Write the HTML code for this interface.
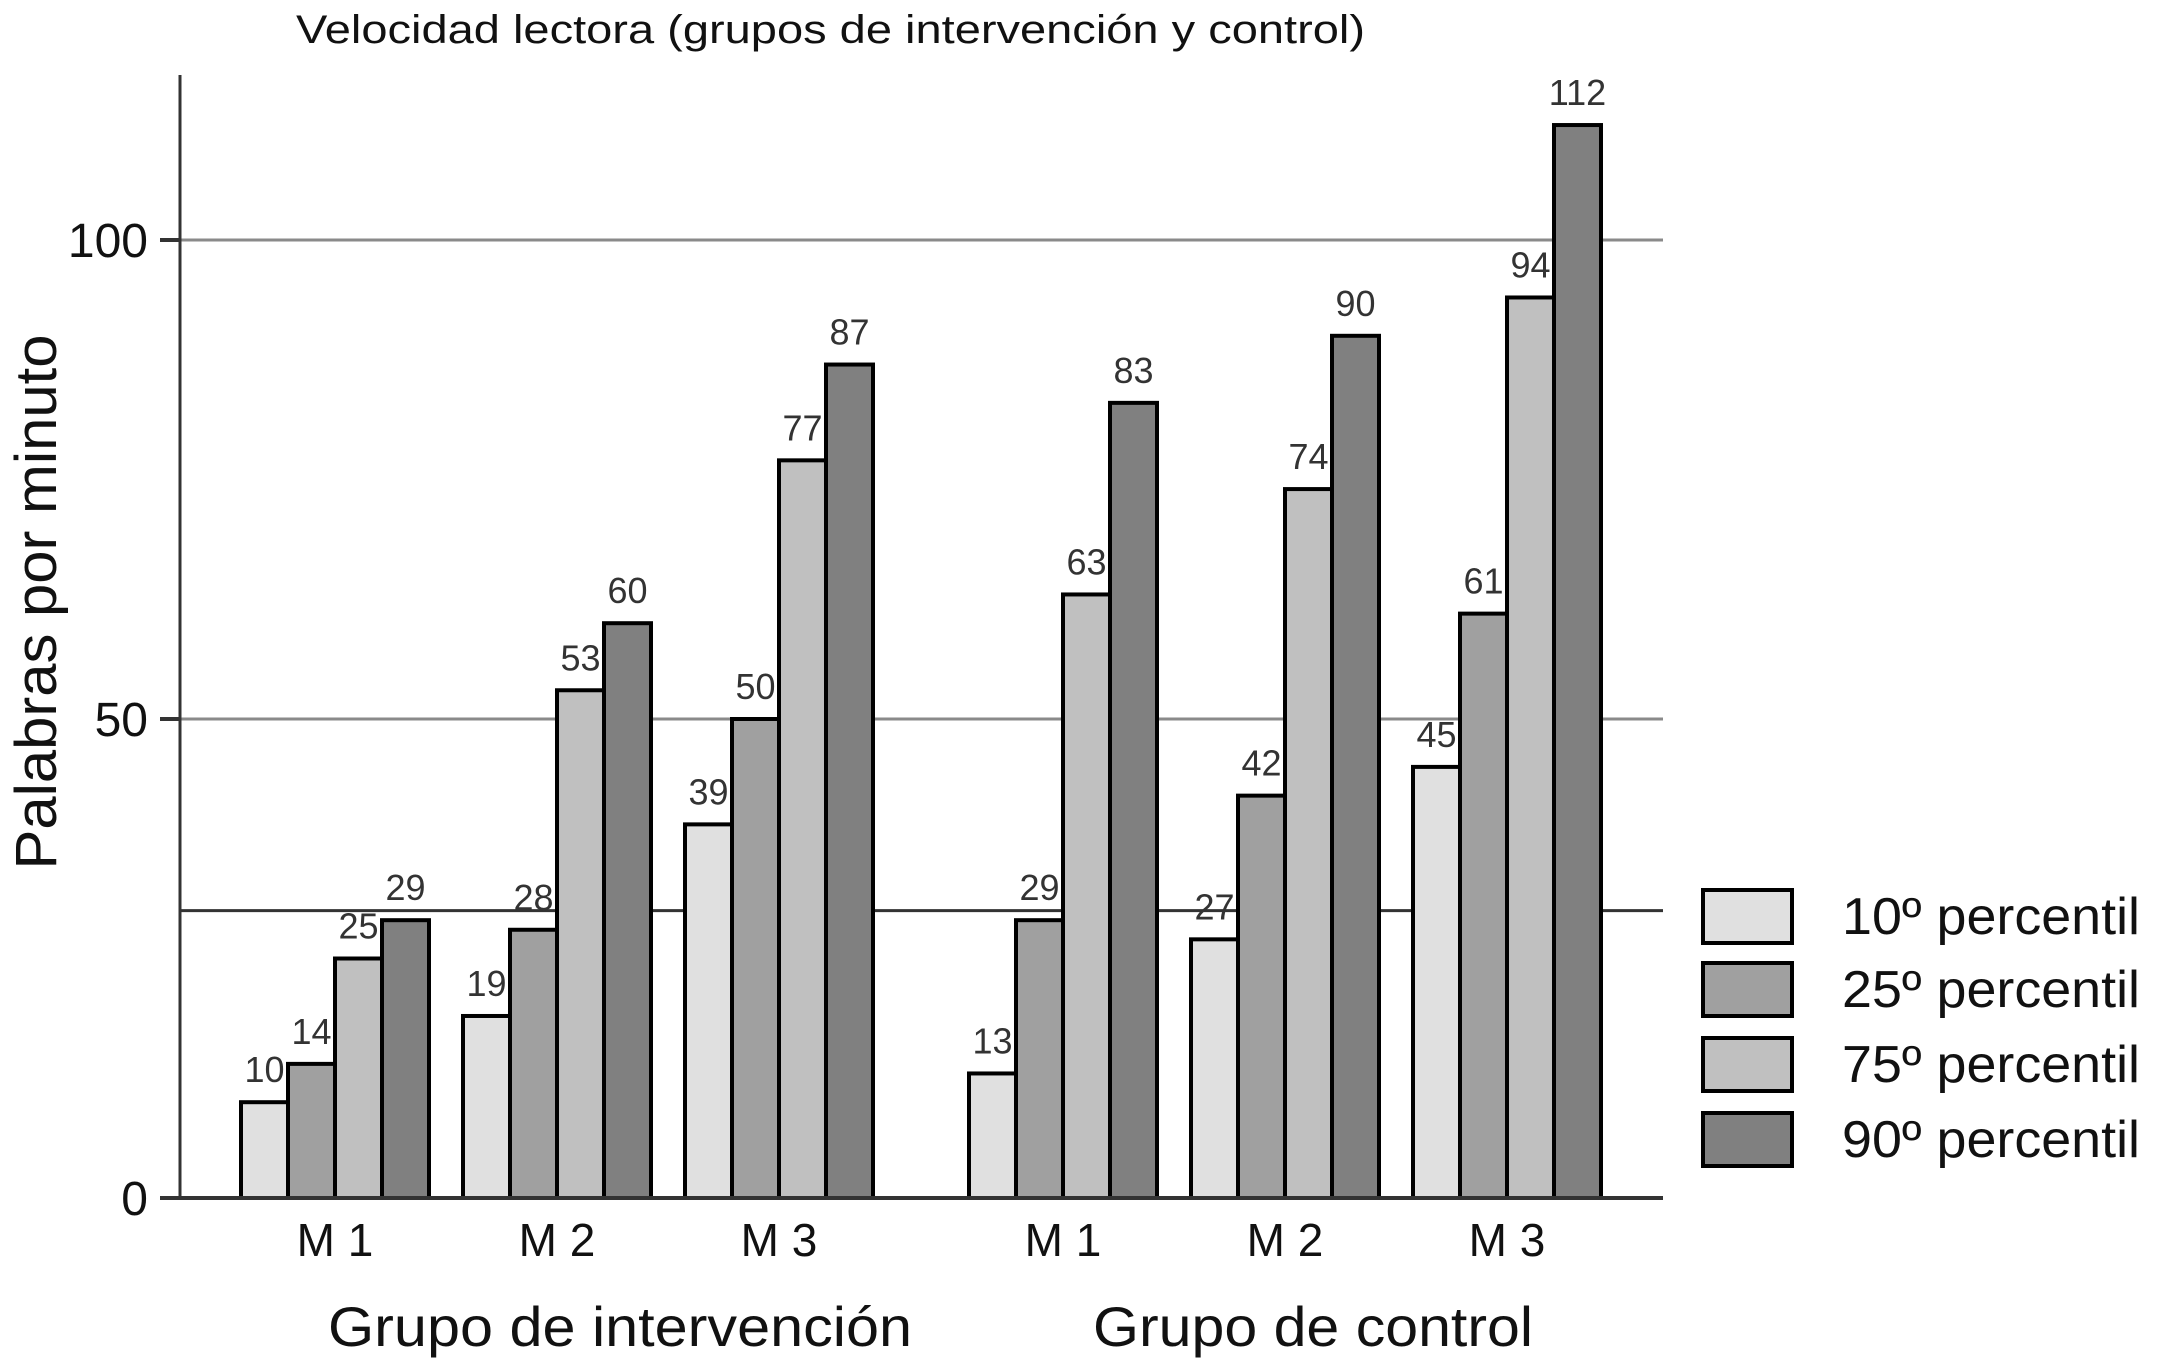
<!DOCTYPE html>
<html><head><meta charset="utf-8"><style>
html,body{margin:0;padding:0;background:#fff;}
svg{display:block;font-family:"Liberation Sans",Arial,sans-serif;}
</style></head><body>
<svg id="chart" width="2175" height="1362" viewBox="0 0 2175 1362">
<text x="296" y="43" font-size="40" textLength="1069" lengthAdjust="spacingAndGlyphs" fill="#111">Velocidad lectora (grupos de intervención y control)</text>
<text transform="translate(56,602) rotate(-90)" font-size="58" text-anchor="middle" textLength="535" lengthAdjust="spacingAndGlyphs" fill="#111">Palabras por minuto</text>
<g id="grid"></g><g id="bars"></g><g id="labels"></g><g id="axes"></g><g id="legend"></g>
<text x="620" y="1346" font-size="56" text-anchor="middle" textLength="584" lengthAdjust="spacingAndGlyphs" fill="#111">Grupo de intervención</text>
<text x="1313" y="1346" font-size="56" text-anchor="middle" textLength="440" lengthAdjust="spacingAndGlyphs" fill="#111">Grupo de control</text>
</svg>
<script>
const categories = ["M 1","M 2","M 3","M 1","M 2","M 3"];
const seriesNames = ["10º percentil","25º percentil","75º percentil","90º percentil"];
const p10 = [10,19,39,13,27,45];
const p25 = [14,28,50,29,42,61];
const p75 = [25,53,77,63,74,94];
const p90 = [29,60,87,83,90,112];
const yTicks = [0,50,100];
const refLine = 30;

const NS="http://www.w3.org/2000/svg";
const colors=["#e0e0e0","#a0a0a0","#c0c0c0","#808080"];
const series=[p10,p25,p75,p90];
const x0=180, x1=1663, yBase=1198, pxPerUnit=9.58;
function y(v){return yBase - v*pxPerUnit;}
function slotStart(i){return 241 + i*222 + (i>=3?62:0);}
const barW=47;
function mk(tag,attrs,parent){const e=document.createElementNS(NS,tag);for(const k in attrs)e.setAttribute(k,attrs[k]);parent.appendChild(e);return e;}
const grid=document.getElementById('grid'),bars=document.getElementById('bars'),labels=document.getElementById('labels'),axes=document.getElementById('axes'),legend=document.getElementById('legend');

yTicks.forEach(t=>{
  if(t>0){const l=mk('line',{x1:x0,x2:x1,y1:y(t),y2:y(t),stroke:'#8a8a8a','stroke-width':3},grid);
  
  }
  const tk=mk('line',{x1:160,x2:x0,y1:y(t),y2:y(t),stroke:'#333','stroke-width':4},axes);
  
  
  const tx=mk('text',{x:148,y:y(t)+17,'font-size':48,'text-anchor':'end',fill:'#111'},axes);
  tx.textContent=t;
  
  
});
const rl=mk('line',{x1:x0,x2:x1,y1:y(refLine),y2:y(refLine),stroke:'#333','stroke-width':3},grid);



categories.forEach((c,i)=>{
  const s=slotStart(i);
  series.forEach((arr,j)=>{
    const bx=s+j*barW, v=arr[i];
    const r=mk('rect',{x:bx,y:y(v),width:barW,height:yBase-y(v),fill:colors[j],stroke:'#000','stroke-width':4},bars);
    
    
    const t=mk('text',{x:bx+barW/2,y:y(v)-20,'font-size':36,'text-anchor':'middle',fill:'#333'},labels);
    t.textContent=v;
    
    
  });
  const ct=mk('text',{x:s+2*barW,y:1256,'font-size':46,'text-anchor':'middle',fill:'#111'},axes);
  ct.textContent=c;
  
  
});
const ya=mk('line',{x1:x0,x2:x0,y1:75,y2:yBase,stroke:'#333','stroke-width':3},axes);


const xa=mk('line',{x1:160,x2:x1,y1:yBase,y2:yBase,stroke:'#333','stroke-width':4},axes);



seriesNames.forEach((n,j)=>{
  const ly=[890,963,1038,1113][j];
  const g=mk('g',{},legend);
  
  
  mk('rect',{x:1703,y:ly,width:89,height:53,fill:colors[j],stroke:'#000','stroke-width':4},g);
  const t=mk('text',{x:1842,y:ly+44,'font-size':52,fill:'#111',textLength:298,lengthAdjust:'spacingAndGlyphs'},g);
  t.textContent=n;
});
</script>
</body></html>
